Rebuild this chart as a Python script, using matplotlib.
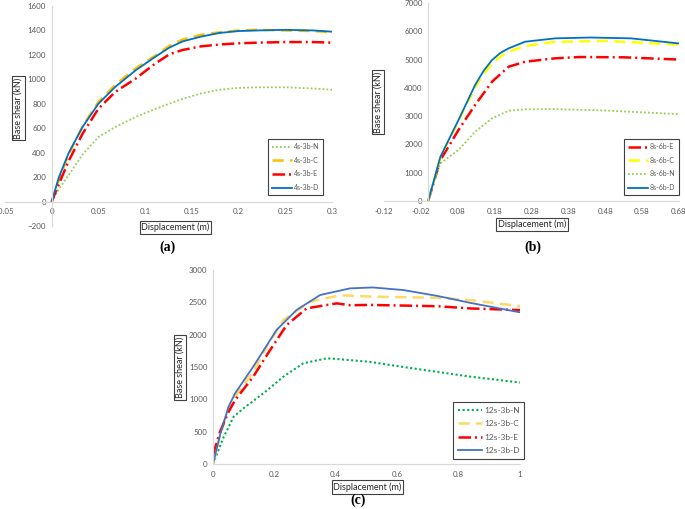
import matplotlib.pyplot as plt

W, H = 685, 509

# ---- panel (a) data: 4 storey, 3 bay
disp_a = [0, 0.0075, 0.018, 0.033, 0.05, 0.068, 0.09, 0.11, 0.126,
          0.14, 0.16, 0.18, 0.2, 0.22, 0.25, 0.28, 0.3]
a_N = [0, 100, 215, 385, 528, 610, 692, 755, 801,
       840, 885, 915, 930, 935, 935, 925, 915]
a_C = [0, 175, 385, 615, 815, 955, 1090, 1190, 1275,
       1325, 1365, 1385, 1400, 1405, 1400, 1395, 1385]
a_E = [0, 140, 330, 555, 760, 897, 1007, 1125, 1205,
       1240, 1270, 1285, 1295, 1300, 1305, 1305, 1300]
a_D = [0, 195, 395, 610, 801, 938, 1075, 1180, 1260,
       1310, 1350, 1380, 1395, 1400, 1405, 1400, 1390]

# ---- panel (b) data: 8 storey, 6 bay
b_E_x = [0, 0.033, 0.082, 0.127, 0.173, 0.218, 0.263, 0.344, 0.41, 0.53, 0.68]
b_E = [0, 1450, 2510, 3394, 4218, 4748, 4924, 5044, 5090, 5080, 5000]
b_C_x = [0, 0.033, 0.082, 0.127, 0.15, 0.173, 0.195, 0.218, 0.263, 0.344, 0.48, 0.68]
b_C = [0, 1560, 2840, 4020, 4480, 4867, 5100, 5280, 5480, 5630, 5660, 5530]
b_N_x = [0, 0.010, 0.033, 0.082, 0.127, 0.173, 0.218, 0.263, 0.34, 0.48, 0.68]
b_N = [0, 506, 1333, 1803, 2450, 2923, 3192, 3241, 3250, 3200, 3070]
b_D_x = [0, 0.033, 0.082, 0.127, 0.15, 0.173, 0.195, 0.218, 0.263, 0.344, 0.44, 0.55, 0.68]
b_D = [0, 1566, 2863, 4100, 4600, 4985, 5230, 5397, 5632, 5750, 5780, 5750, 5570]

# ---- panel (c) data: 12 storey, 3 bay
c_N_x = [0, 0.035, 0.067, 0.099, 0.164, 0.229, 0.294, 0.37, 0.4, 0.51, 0.62, 0.73, 0.84, 1.0]
c_N = [0, 420, 730, 860, 1093, 1350, 1557, 1634, 1625, 1580, 1500, 1425, 1350, 1260]
c_C_x = [0, 0.023, 0.05, 0.072, 0.131, 0.175, 0.229, 0.316, 0.414, 0.51, 0.73, 0.84, 1.0]
c_C = [0, 440, 840, 1040, 1427, 1813, 2226, 2509, 2610, 2590, 2570, 2535, 2440]
c_E_x = [0, 0.023, 0.05, 0.072, 0.131, 0.186, 0.240, 0.305, 0.403, 0.447, 0.51, 0.73, 0.84, 1.0]
c_E = [140, 500, 800, 989, 1350, 1762, 2149, 2407, 2484, 2455, 2460, 2440, 2405, 2380]
c_D_x = [0, 0.023, 0.05, 0.072, 0.131, 0.207, 0.272, 0.349, 0.446, 0.52, 0.62, 0.73, 0.84, 1.0]
c_D = [0, 450, 880, 1093, 1505, 2072, 2381, 2613, 2716, 2730, 2690, 2600, 2490, 2345]

TICK_COLOR = '#595959'
SPINE_COLOR = '#d9d9d9'
DASHDOT = (0, (5, 1.6, 0.8, 1.6))
DASHED = (0, (4.5, 2.5))
DOTTED = (0, (1, 1.2))

plt.rcParams['font.family'] = ['Lato', 'DejaVu Sans']

fig = plt.figure(figsize=(W / 100, H / 100), dpi=100)


def make_axes(px_left, px_right, px_top, px_bottom):
    ax = fig.add_axes([px_left / W, 1 - px_bottom / H,
                       (px_right - px_left) / W, (px_bottom - px_top) / H])
    for s in ['top', 'right']:
        ax.spines[s].set_visible(False)
    for s in ['left', 'bottom']:
        ax.spines[s].set_position(('data', 0))
        ax.spines[s].set_color(SPINE_COLOR)
        ax.spines[s].set_linewidth(0.9)
    ax.tick_params(length=0, labelsize=5.7, labelcolor=TICK_COLOR)
    ax.tick_params(axis='x', pad=5)
    ax.tick_params(axis='y', pad=4)
    ax.patch.set_alpha(0)
    return ax


def boxed(px_x, px_y, text, rotation=0):
    fig.text(px_x / W, 1 - px_y / H, text, fontsize=6.5, rotation=rotation,
             ha='center', va='center', color='#262626',
             bbox=dict(boxstyle='square,pad=0.2', fc='white', ec='#404040', lw=0.8))


def legend(ax, px_x, px_y, fs, spacing):
    lg = ax.legend(loc='upper left', bbox_to_anchor=(px_x / W, 1 - px_y / H),
                   bbox_transform=fig.transFigure, fontsize=fs, handlelength=2.9,
                   labelspacing=spacing, borderpad=0.6, fancybox=False, framealpha=1,
                   edgecolor='#404040', handletextpad=0.2, borderaxespad=0)
    lg.get_frame().set_linewidth(0.8)
    for t in lg.get_texts():
        t.set_color(TICK_COLOR)


# ---------------- (a)
ax = make_axes(5, 332, 6, 226)
ax.plot(disp_a, a_N, color='#92d050', lw=1.3, ls=DOTTED, label='4s-3b-N')
ax.plot(disp_a, a_C, color='#ffc000', lw=1.8, ls=DASHED, label='4s-3b-C')
ax.plot(disp_a, a_E, color='#ff0000', lw=1.8, ls=DASHDOT, label='4s-3b-E')
ax.plot(disp_a, a_D, color='#0070c0', lw=1.3, label='4s-3b-D')
ax.set_xlim(-0.05, 0.3)
ax.set_ylim(-200, 1600)
ax.set_xticks([-0.05, 0, 0.05, 0.1, 0.15, 0.2, 0.25, 0.3])
ax.set_xticklabels(['-0.05', '0', '0.05', '0.1', '0.15', '0.2', '0.25', '0.3'])
ax.set_yticks(range(-200, 1601, 200))
legend(ax, 268, 139, 5.0, 0.95)
boxed(175.5, 227.5, 'Displacement (m)')
boxed(18.5, 108, 'Base shear (kN)', rotation=90)
fig.text(168 / W, 1 - 247 / H, '(a)', fontsize=10, fontweight='bold',
         family='Liberation Serif', ha='center', va='center')

# ---------------- (b)
ax = make_axes(384, 679, 3, 201)
ax.plot(b_E_x, b_E, color='#ff0000', lw=1.8, ls=DASHDOT, label='8s-6b-E')
ax.plot(b_C_x, b_C, color='#ffff00', lw=1.8, ls=DASHED, label='8s-6b-C')
ax.plot(b_N_x, b_N, color='#92d050', lw=1.3, ls=DOTTED, label='8s-6b-N')
ax.plot(b_D_x, b_D, color='#0070c0', lw=1.3, label='8s-6b-D')
ax.set_xlim(-0.12, 0.68)
ax.set_ylim(0, 7000)
b_ticks = [-0.12, -0.02, 0.08, 0.18, 0.28, 0.38, 0.48, 0.58, 0.68]
ax.set_xticks(b_ticks)
ax.set_xticklabels(['%.2f' % t for t in b_ticks])
ax.set_yticks(range(0, 7001, 1000))
legend(ax, 624, 139, 5.0, 0.95)
boxed(532, 224.5, 'Displacement (m)')
boxed(378, 102, 'Base shear (kN)', rotation=90)
fig.text(533 / W, 1 - 247 / H, '(b)', fontsize=10, fontweight='bold',
         family='Liberation Serif', ha='center', va='center')

# ---------------- (c)
ax = make_axes(213, 520, 270, 464)
ax.plot(c_N_x, c_N, color='#00b050', lw=1.5, ls=DOTTED, label='12s-3b-N')
ax.plot(c_C_x, c_C, color='#ffd966', lw=1.8, ls=DASHED, label='12s-3b-C')
ax.plot(c_E_x, c_E, color='#ff0000', lw=1.8, ls=DASHDOT, label='12s-3b-E')
ax.plot(c_D_x, c_D, color='#4472c4', lw=1.3, label='12s-3b-D')
ax.set_xlim(0, 1)
ax.set_ylim(0, 3000)
ax.set_xticks([0, 0.2, 0.4, 0.6, 0.8, 1])
ax.set_xticklabels(['0', '0.2', '0.4', '0.6', '0.8', '1'])
ax.set_yticks(range(0, 3001, 500))
legend(ax, 453, 402, 6.0, 0.75)
boxed(367.5, 487, 'Displacement (m)')
boxed(180, 367.5, 'Base shear (kN)', rotation=90)
fig.text(358 / W, 1 - 500 / H, '(c)', fontsize=10, fontweight='bold',
         family='Liberation Serif', ha='center', va='center')

fig.savefig('out.png', dpi=100)
